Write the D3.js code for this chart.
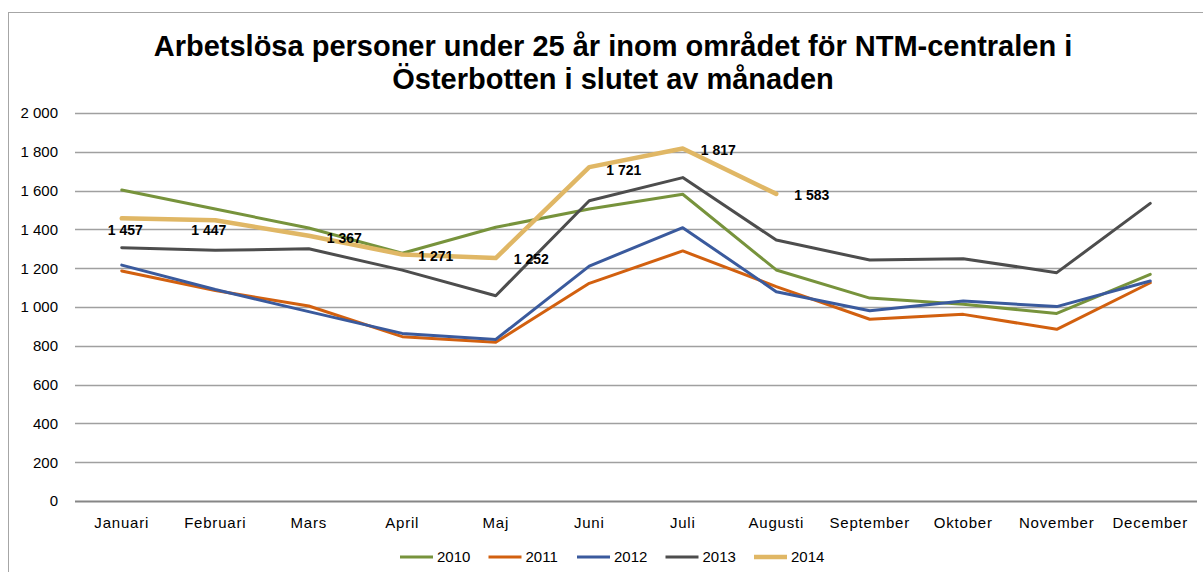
<!DOCTYPE html>
<html>
<head>
<meta charset="utf-8">
<script src="https://cdn.jsdelivr.net/npm/d3@7"></script>
<style>
  body { margin: 0; background: #fff; }
  svg { display: block; font-family: "Liberation Sans", Arial, sans-serif; }
</style>
</head>
<body>
<div id="chart"></div>
<script>
'use strict';

var months = ['Januari', 'Februari', 'Mars', 'April', 'Maj', 'Juni', 'Juli',
    'Augusti', 'September', 'Oktober', 'November', 'December'];
var years = ['2010', '2011', '2012', '2013', '2014'];

var values2010 = [1603, 1505, 1407, 1277, 1411, 1505, 1581, 1191, 1046, 1014, 967, 1168];
var values2011 = [1186, 1085, 1005, 847, 818, 1122, 1289, 1105, 937, 962, 885, 1125];
var values2012 = [1216, 1090, 976, 864, 833, 1211, 1409, 1079, 981, 1031, 1002, 1134];
var values2013 = [1306, 1292, 1300, 1190, 1058, 1548, 1667, 1345, 1242, 1249, 1177, 1534];
var values2014 = [1457, 1447, 1367, 1271, 1252, 1721, 1817, 1583];

var yTicks = [0, 200, 400, 600, 800, 1000, 1200, 1400, 1600, 1800, 2000];
var titleLines = ['Arbetslösa personer under 25 år inom området för NTM-centralen i',
    'Österbotten i slutet av månaden'];

var seriesValues = [values2010, values2011, values2012, values2013, values2014];
var colors = ['#77933c', '#d2600f', '#3a5a9d', '#4d4d4d', '#e0b765'];
var widths = [3, 3, 3, 3, 4.5];

// label offsets for the 2014 data labels (dx, dy from the point)
var labelOffsets = [[-14, 12], [-24, 10], [18, 2], [16, 2], [18, 1], [17, 3], [18, 2], [18, 1]];

var W = 1203, H = 572;
var margin = { top: 113, left: 75, right: 6, bottom: 71 };

var fmt = function (d) { return d3.format(',')(d).replace(/,/g, ' '); };

var svg = d3.select('#chart').append('svg')
    .attr('width', W)
    .attr('height', H);

// outer chart border
svg.append('rect')
    .attr('x', 8.5).attr('y', 12.5)
    .attr('width', W).attr('height', H)
    .attr('fill', 'none')
    .attr('stroke', '#a6a6a6')
    .attr('stroke-width', 1);

var x = d3.scaleBand()
    .domain(months)
    .range([margin.left, W - margin.right]);

var y = d3.scaleLinear()
    .domain([0, 2000])
    .range([H - margin.bottom, margin.top]);

// title
svg.append('text')
    .attr('x', 613)
    .attr('y', 56)
    .attr('text-anchor', 'middle')
    .attr('font-size', 29)
    .attr('font-weight', 'bold')
    .selectAll('tspan')
    .data(titleLines)
    .enter().append('tspan')
    .attr('x', 613)
    .attr('dy', function (d, i) { return i === 0 ? 0 : 33; })
    .text(function (d) { return d; });

// gridlines + y axis labels
var yAxis = d3.axisLeft(y)
    .tickValues(yTicks)
    .tickSize(0)
    .tickPadding(17)
    .tickFormat(fmt);

var yg = svg.append('g')
    .attr('transform', 'translate(' + margin.left + ',0)')
    .call(yAxis);
yg.select('.domain').remove();
yg.selectAll('text')
    .attr('font-size', 15)
    .attr('font-family', '"Liberation Sans", Arial, sans-serif')
    .attr('fill', '#000');

svg.append('g')
    .selectAll('line')
    .data(yTicks)
    .enter().append('line')
    .attr('x1', margin.left)
    .attr('x2', W - margin.right)
    .attr('y1', function (d) { return Math.round(y(d)) + 0.5; })
    .attr('y2', function (d) { return Math.round(y(d)) + 0.5; })
    .attr('stroke', function (d) { return d === 0 ? '#868686' : '#a0a0a0'; })
    .attr('stroke-width', function (d) { return d === 0 ? 2 : 1.5; });

// x axis labels
var xAxis = d3.axisBottom(x).tickSize(0).tickPadding(16);
var xg = svg.append('g')
    .attr('transform', 'translate(0,' + (H - margin.bottom) + ')')
    .call(xAxis);
xg.select('.domain').remove();
xg.selectAll('text')
    .attr('font-size', 15)
    .attr('letter-spacing', 0.8)
    .attr('font-family', '"Liberation Sans", Arial, sans-serif')
    .attr('fill', '#000');

// lines
var line = d3.line()
    .x(function (d, i) { return x(months[i]) + x.bandwidth() / 2; })
    .y(function (d) { return y(d); });

svg.append('g')
    .selectAll('path')
    .data(seriesValues)
    .enter().append('path')
    .attr('fill', 'none')
    .attr('stroke', function (d, i) { return colors[i]; })
    .attr('stroke-width', function (d, i) { return widths[i]; })
    .attr('stroke-linejoin', 'round')
    .attr('stroke-linecap', 'round')
    .attr('d', line);

// data labels for 2014
svg.append('g')
    .selectAll('text')
    .data(values2014)
    .enter().append('text')
    .attr('x', function (d, i) { return x(months[i]) + x.bandwidth() / 2 + labelOffsets[i][0]; })
    .attr('y', function (d, i) { return y(d) + labelOffsets[i][1]; })
    .attr('dy', '0.35em')
    .attr('font-size', 14)
    .attr('font-weight', 'bold')
    .text(fmt);

// legend
var legend = svg.append('g')
    .selectAll('g')
    .data(years)
    .enter().append('g')
    .attr('transform', function (d, i) { return 'translate(' + (400 + i * 88.5) + ',557)'; });

legend.append('line')
    .attr('x1', 0).attr('x2', 33)
    .attr('stroke', function (d, i) { return colors[i]; })
    .attr('stroke-width', function (d, i) { return widths[i]; });

legend.append('text')
    .attr('x', 37)
    .attr('dy', '0.35em')
    .attr('font-size', 15)
    .text(function (d) { return d; });
</script>
</body>
</html>
